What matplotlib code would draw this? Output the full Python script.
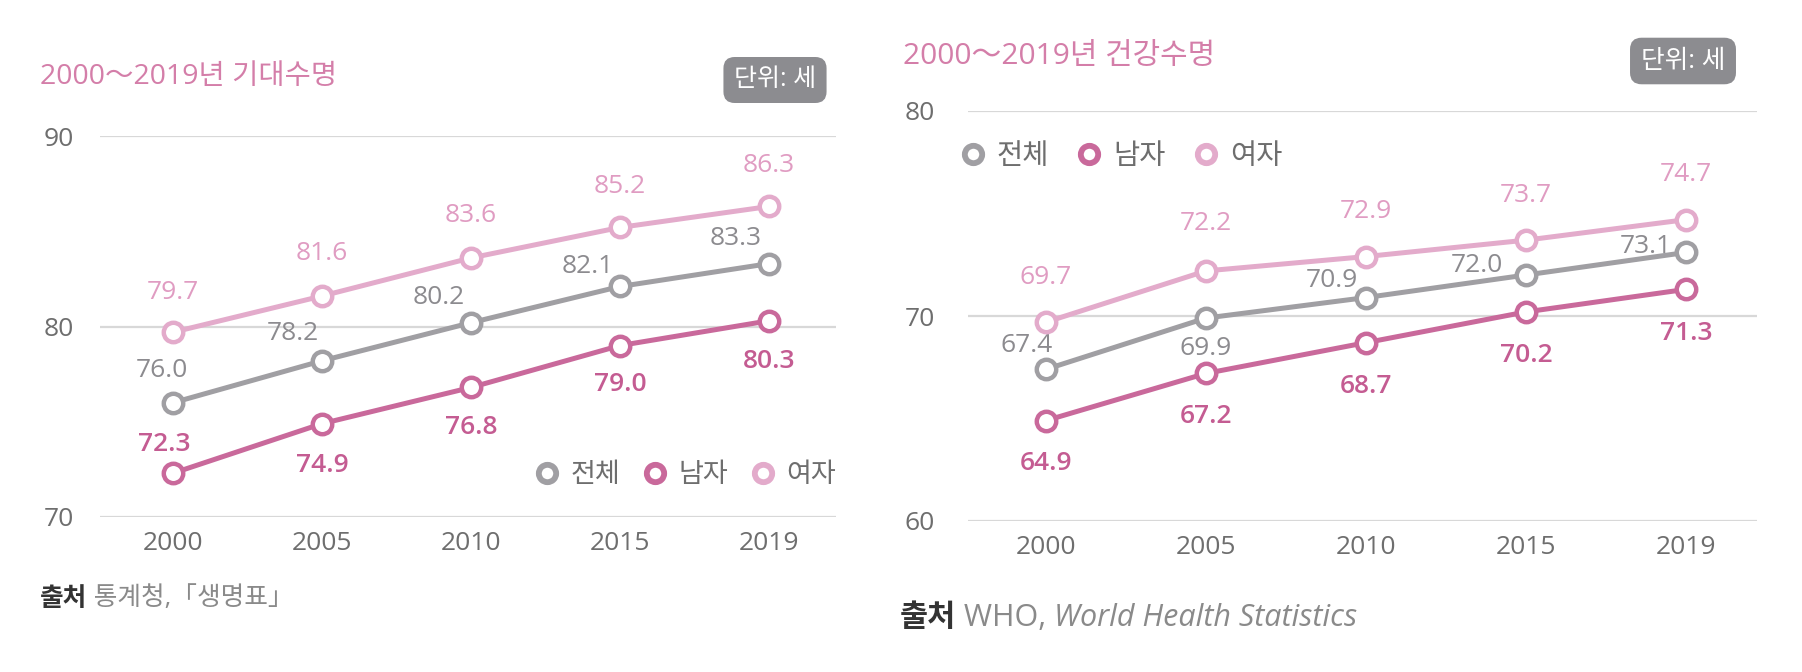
import matplotlib
matplotlib.use('Agg')
import matplotlib.pyplot as plt

plt.rcParams['font.family'] = ['Open Sans', 'Noto Sans CJK KR', 'DejaVu Sans']

# data
years = ['2000', '2005', '2010', '2015', '2019']
series_names = ['전체', '남자', '여자']

life_total = [76.0, 78.2, 80.2, 82.1, 83.3]
life_male = [72.3, 74.9, 76.8, 79.0, 80.3]
life_female = [79.7, 81.6, 83.6, 85.2, 86.3]

health_total = [67.4, 69.9, 70.9, 72.0, 73.1]
health_male = [64.9, 67.2, 68.7, 70.2, 71.3]
health_female = [69.7, 72.2, 72.9, 73.7, 74.7]

left_title = '2000～2019년 기대수명'
right_title = '2000～2019년 건강수명'
unit_text = '단위: 세'

# styles
GRAY = '#a09fa3'
MALE = '#c9699b'
FEMALE = '#e3abcb'
TITLE_PINK = '#d47ea9'
TICK_GRAY = '#6e6e6e'
GRID = '#d8d8d8'
colors = [GRAY, MALE, FEMALE]
label_colors = ['#8c8b8f', '#c45c92', '#e09cc2']
label_weights = ['normal', 'semibold', 'normal']

# label offsets in pixels (dx, dy up), one list per series
left_offsets = [
    [(-11, 32), (-29, 27), (-32, 25), (-32, 20), (-33, 25)],
    [(-9, 29), (0, -42), (0, -40), (0, -39), (0, -41)],
    [(0, 40), (0, 43), (0, 42), (0, 41), (0, 41)],
]
right_offsets = [
    [(-19, 24), (0, -30), (-34, 17), (-49, 9), (-40, 6)],
    [(0, -43), (0, -43), (0, -44), (0, -44), (0, -44)],
    [(0, 45), (0, 47), (0, 45), (0, 45), (0, 45)],
]

W, H = 1802, 672
fig = plt.figure(figsize=(W / 100, H / 100), dpi=100)


def px_axes(x0, x1, ytop, ybot):
    return fig.add_axes([x0 / W, (H - ybot) / H, (x1 - x0) / W, (ybot - ytop) / H])


def draw_panel(ax, series, offsets, ylim, yticks, xlim, ypad):
    x = list(range(len(years)))
    for vals, c, lc, lw, offs in zip(series, colors, label_colors, label_weights, offsets):
        ax.plot(x, vals, color=c, lw=3.6, marker='o', ms=14, mew=3.2,
                mfc='white', mec=c, zorder=3, clip_on=False)
        for xi, v, (dx, dy) in zip(x, vals, offs):
            ax.annotate(f'{v:.1f}', (xi, v), xytext=(dx * 0.72, dy * 0.72),
                        textcoords='offset points', ha='center', va='center',
                        fontsize=19, color=lc, fontweight=lw)
    ax.set_xlim(*xlim)
    ax.set_ylim(*ylim)
    ax.set_yticks(yticks)
    ax.set_xticks(x)
    ax.set_xticklabels(years)
    for s in ax.spines.values():
        s.set_visible(False)
    ax.yaxis.grid(True, color=GRID, lw=1.6)
    ax.set_axisbelow(True)
    ax.tick_params(axis='both', length=0, labelsize=19, labelcolor=TICK_GRAY)
    ax.tick_params(axis='y', pad=ypad)
    ax.tick_params(axis='x', pad=10)


def legend_handles():
    return [plt.Line2D([], [], color=c, lw=0, marker='o', ms=12.5, mew=4.2, mfc='white', mec=c)
            for c in colors]


legend_kw = dict(ncol=3, frameon=False, handlelength=0.6, handletextpad=0.55,
                 columnspacing=1.0, borderpad=0, borderaxespad=0, fontsize=19.5,
                 labelcolor=TICK_GRAY)

# left panel: life expectancy
axl = px_axes(100, 836, 136, 517)
draw_panel(axl, [life_total, life_male, life_female], left_offsets,
           (70, 90), [70, 80, 90], (-0.49, 4.45), 19)
axl.legend(legend_handles(), series_names, loc='center right',
           bbox_to_anchor=(1.0, 0.11), **legend_kw)

# right panel: healthy life expectancy
axr = px_axes(968, 1757, 111, 521)
draw_panel(axr, [health_total, health_male, health_female], right_offsets,
           (60, 80), [60, 70, 80], (-0.4875, 4.444), 24)
axr.legend(legend_handles(), series_names, loc='center left',
           bbox_to_anchor=(-0.005, 0.888), **dict(legend_kw, fontsize=20.5, columnspacing=1.1))

# titles
fig.text(40 / W, 1 - 77 / H, left_title, fontsize=20.5, color=TITLE_PINK, va='center', ha='left')
fig.text(903 / W, 1 - 57 / H, right_title, fontsize=21.5, color=TITLE_PINK, va='center', ha='left')

# unit boxes
box = dict(boxstyle='round,pad=0.42,rounding_size=0.45', fc='#8c8c90', ec='none')
fig.text(775 / W, 1 - 80 / H, unit_text, fontsize=18, color='white', ha='center', va='center', bbox=box)
fig.text(1683 / W, 1 - 61 / H, unit_text, fontsize=18.5, color='white', ha='center', va='center', bbox=box)

# sources
t1 = fig.text(40 / W, 1 - 598 / H, '출처', fontsize=18.5, color='#333333', fontweight='bold', va='center')
t2 = fig.text(900 / W, 1 - 618 / H, '출처', fontsize=22, color='#333333', fontweight='bold', va='center')

fig.canvas.draw()
r = fig.canvas.get_renderer()


def place_after(prev, text, **kw):
    bb = prev.get_window_extent(r)
    y = prev.get_position()[1]
    t = fig.text(bb.x1 / W, y, text, va='center', **kw)
    fig.canvas.draw()
    return t


place_after(t1, ' 통계청,「생명표」', fontsize=18.5, color='#8a8a8a')
t3 = place_after(t2, ' WHO, ', fontsize=22, color='#8a8a8a')
place_after(t3, 'World Health Statistics', fontsize=22, color='#8a8a8a', style='italic')

fig.savefig('out.png', dpi=100)
